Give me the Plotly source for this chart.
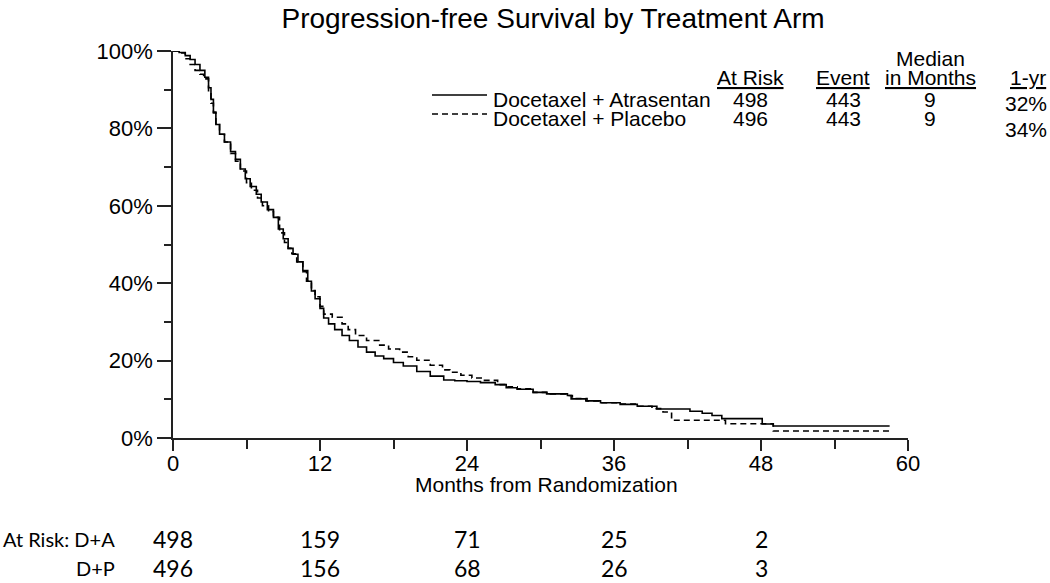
import plotly.graph_objects as go

# ---------------- data ----------------
months_da = [0, 0.5, 1.0, 1.4, 1.8, 2.2, 2.6, 2.9, 3.1, 3.3, 3.5, 3.8, 4.2, 4.7, 5.1, 5.5, 5.9,
             6.3, 6.8, 7.2, 7.7, 8.2, 8.6, 9.0, 9.4, 9.8, 10.2, 10.6, 11.0, 11.3, 11.6, 12.0,
             12.3, 12.7, 13.2, 13.8, 14.4, 15.1, 15.8, 16.5, 17.2, 18.0, 18.8, 19.9, 21.0,
             22.1, 23.0, 24.0, 25.1, 26.3, 27.2, 28.1, 29.4, 30.5, 32.2, 32.5, 33.7, 34.9,
             36.5, 37.9, 39.5, 42.2, 43.2, 44.0, 44.8, 48.1, 49.0, 58.5]
surv_da = [100, 99.6, 98.8, 97.8, 96.5, 95.0, 93.2, 90.5, 87.5, 84.2, 81.0, 78.5, 76.5, 74.0,
           72.0, 69.5, 67.0, 65.0, 63.0, 61.0, 59.0, 57.0, 54.0, 51.5, 49.0, 47.5, 45.5, 43.3,
           40.5, 38.0, 36.0, 33.5, 31.0, 29.5, 28.0, 26.5, 25.2, 23.5, 22.2, 21.2, 20.5, 19.5,
           18.6, 17.2, 16.0, 15.0, 14.8, 14.6, 14.3, 13.8, 13.0, 12.6, 11.8, 11.4, 11.0, 10.1,
           9.6, 9.1, 8.7, 8.2, 7.5, 6.9, 6.4, 5.8, 5.0, 3.6, 3.1, 3.1]

months_dp = [0, 0.5, 1.0, 1.4, 1.8, 2.2, 2.5, 2.9, 3.1, 3.3, 3.5, 3.8, 4.2, 4.7, 5.1, 5.5, 6.0,
             6.4, 6.9, 7.3, 7.8, 8.2, 8.7, 9.1, 9.4, 9.7, 10.1, 10.6, 10.9, 11.3, 11.6, 12.0,
             12.3, 13.0, 13.8, 14.3, 14.9, 15.8, 16.8, 17.6, 18.5, 19.2, 19.9, 21.0, 22.0,
             22.6, 23.5, 24.4, 25.3, 26.5, 27.3, 28.1, 29.4, 30.8, 32.2, 32.6, 33.8, 34.9,
             36.2, 37.9, 39.1, 40.0, 40.7, 45.1, 49.0, 58.5]
surv_dp = [100, 99.5, 98.0, 96.5, 95.0, 94.0, 92.8, 89.4, 86.5, 84.0, 81.0, 78.5, 76.5, 73.5,
           71.5, 69.0, 66.0, 64.0, 62.0, 60.0, 58.5, 57.0, 53.0, 50.5, 49.0, 47.6, 45.5, 43.0,
           40.5, 38.1, 36.5, 34.0, 32.0, 31.2, 29.5, 28.0, 26.5, 25.2, 24.0, 23.0, 22.2, 21.0,
           20.1, 18.8, 17.6, 17.0, 16.2, 15.5, 14.9, 13.8, 13.2, 12.7, 11.8, 11.4, 11.0, 10.2,
           9.6, 9.1, 8.8, 8.2, 7.6, 6.7, 4.6, 3.7, 1.8, 1.8]

arm_names = ["Docetaxel + Atrasentan", "Docetaxel + Placebo"]
arm_dash = ["solid", "6px,4px"]
arm_at_risk = ["498", "496"]
arm_events = ["443", "443"]
arm_median = ["9", "9"]
arm_one_year = ["32%", "34%"]

risk_months = [0, 12, 24, 36, 48]
risk_labels = ["At Risk: D+A", "D+P"]
risk_da = [498, 159, 71, 25, 2]
risk_dp = [496, 156, 68, 26, 3]

y_ticks = [0, 20, 40, 60, 80, 100]
y_ticktext = ["0%", "20%", "40%", "60%", "80%", "100%"]
x_ticks = [0, 12, 24, 36, 48, 60]

# ---------------- layout geometry ----------------
W, H = 1050, 583
ML, MR, MT, MB = 173, 142, 51, 145
PW, PH = W - ML - MR, H - MT - MB


def px(x):
    return (x - ML) / PW


def py(y):
    return (H - MB - y) / PH


FONT = "Liberation Sans, Arial, sans-serif"
TFONT = "Lato, Carlito, Calibri, sans-serif"

fig = go.Figure()
fig.add_trace(go.Scatter(x=months_da, y=surv_da, mode="lines", line_shape="hv",
                         line=dict(color="black", width=1.6, dash=arm_dash[0]),
                         name=arm_names[0], showlegend=False))
fig.add_trace(go.Scatter(x=months_dp, y=surv_dp, mode="lines", line_shape="hv",
                         line=dict(color="black", width=1.6, dash=arm_dash[1]),
                         name=arm_names[1], showlegend=False))

ann = []
shapes = []

# legend table headers
hdr = dict(xref="paper", yref="paper", showarrow=False, font=dict(family=FONT, size=21, color="black"))
ann.append(dict(text="<u>At Risk</u>", x=px(750), y=py(77), xanchor="center", yanchor="middle", **hdr))
ann.append(dict(text="<u>Event</u>", x=px(843), y=py(77), xanchor="center", yanchor="middle", **hdr))
ann.append(dict(text="Median", x=px(930), y=py(59), xanchor="center", yanchor="middle", **hdr))
ann.append(dict(text="<u>in Months</u>", x=px(930), y=py(77), xanchor="center", yanchor="middle", **hdr))
ann.append(dict(text="<u>1-yr</u>", x=px(1048), y=py(77), xanchor="right", yanchor="middle", **hdr))

row_y = [99, 118]
one_year_y = [104, 129]
for i in range(2):
    shapes.append(dict(type="line", xref="paper", yref="paper",
                       x0=px(432), x1=px(487), y0=py(row_y[i] - 4), y1=py(row_y[i] - 4),
                       line=dict(color="black", width=1.3, dash=arm_dash[i])))
    ann.append(dict(text=arm_names[i], x=px(491), y=py(row_y[i]), xanchor="left", yanchor="middle", **hdr))
    ann.append(dict(text=arm_at_risk[i], x=px(750), y=py(row_y[i]), xanchor="center", yanchor="middle", **hdr))
    ann.append(dict(text=arm_events[i], x=px(843), y=py(row_y[i]), xanchor="center", yanchor="middle", **hdr))
    ann.append(dict(text=arm_median[i], x=px(930), y=py(row_y[i]), xanchor="center", yanchor="middle", **hdr))
    ann.append(dict(text=arm_one_year[i], x=px(1049), y=py(one_year_y[i]), xanchor="right", yanchor="middle", **hdr))

# x-axis title
ann.append(dict(text="Months from Randomization", x=px(546), y=py(484), xanchor="center", yanchor="middle", **hdr))

# at-risk table below the axis
risk_rows = [risk_da, risk_dp]
risk_y = [539, 568]
label_right = 117
lf = dict(family=TFONT, size=20, color="black")
nf = dict(family=TFONT, size=23, color="black")
for r in range(2):
    ann.append(dict(text=risk_labels[r], xref="paper", yref="paper", x=px(label_right), y=py(risk_y[r]),
                    xanchor="right", yanchor="middle", showarrow=False, font=lf))
    for m, v in zip(risk_months, risk_rows[r]):
        ann.append(dict(text=str(v), xref="x", yref="paper", x=m, y=py(risk_y[r]),
                        xanchor="center", yanchor="middle", showarrow=False, font=nf))

fig.update_layout(
    width=W, height=H, autosize=False,
    margin=dict(l=ML, r=MR, t=MT, b=MB),
    paper_bgcolor="white", plot_bgcolor="white",
    title=dict(text="Progression-free Survival by Treatment Arm", x=553 / W, xanchor="center",
               y=1 - 18 / H, yanchor="middle", xref="container", yref="container",
               font=dict(family=FONT, size=28, color="black")),
    annotations=ann, shapes=shapes,
    xaxis=dict(range=[0, 60], tickvals=x_ticks, ticks="outside", ticklen=11, tickwidth=1.5,
               tickcolor="#222", showline=True, linecolor="#222", linewidth=1.5,
               showgrid=False, zeroline=False, ticklabelstandoff=-6,
               tickfont=dict(family=FONT, size=22, color="black"),
               minor=dict(tickvals=[6, 18, 30, 42, 54], ticks="outside", ticklen=9, tickwidth=1.5, tickcolor="#222")),
    yaxis=dict(range=[0, 100], tickmode="array", tickvals=y_ticks, ticktext=y_ticktext,
               ticks="outside", ticklen=14,
               tickwidth=1.5, tickcolor="#222", showline=True, linecolor="#222", linewidth=1.5,
               showgrid=False, zeroline=False,
               tickfont=dict(family=FONT, size=22, color="black"),
               minor=dict(tickvals=[10, 30, 50, 70, 90], ticks="outside", ticklen=7, tickwidth=1.5, tickcolor="#222")),
)

fig.write_html("out.html", config={"displayModeBar": False},
               post_script="document.body.style.margin='0';document.body.style.overflow='hidden';")
